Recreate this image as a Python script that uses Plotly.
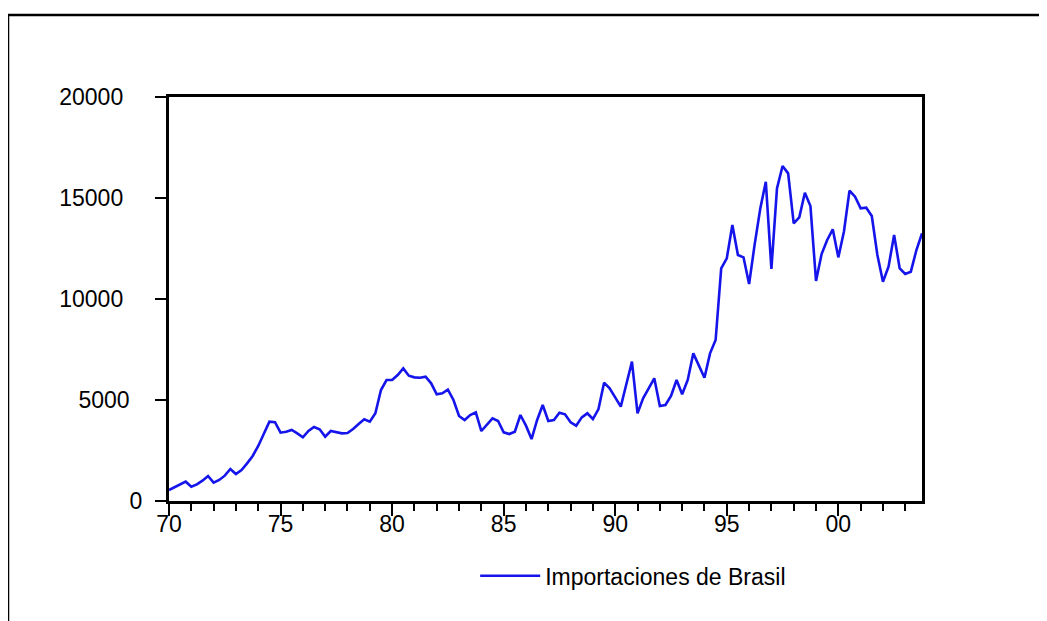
import plotly.graph_objects as go

# Quarterly data 1970Q1 - 2003Q4
start_year = 1970
importaciones = [
    545, 677, 825, 957, 710, 825, 1007, 1238, 908, 1040, 1254, 1584,
    1337, 1535, 1865, 2228, 2723, 3350, 3927, 3900, 3383, 3432, 3515, 3350,
    3150, 3465, 3663, 3548, 3185, 3465, 3400, 3350, 3366, 3564, 3812, 4043,
    3927, 4340, 5495, 5990, 5990, 6237, 6567, 6204, 6122, 6105, 6155, 5825,
    5280, 5330, 5510, 5000,
    4208, 4010, 4257, 4389, 3465, 3762, 4092, 3960, 3400, 3316, 3432, 4257,
    3729, 3069, 4010, 4752, 3960, 4010, 4372, 4290, 3894, 3729, 4141, 4340,
    4059, 4554, 5857, 5577, 5115, 4670, 5790, 6897, 4340, 5082, 5577, 6072,
    4703, 4752, 5198, 5990, 5280, 5990, 7310, 6683, 6105, 7310, 7970, 11517,
    12013, 13662, 12177, 12062, 10741, 12705, 14470, 15806, 11484, 15477, 16582, 16220,
    13744, 14041, 15262, 14602, 10890, 12226, 12920, 13447, 12062, 13332, 15361, 15064,
    14487, 14520, 14107, 12177, 10857, 11600, 13167, 11517, 11236, 11352, 12425, 13250,
]
x_tick_vals = [1970, 1975, 1980, 1985, 1990, 1995, 2000]
x_tick_text = ["70", "75", "80", "85", "90", "95", "00"]
y_tick_vals = [0, 5000, 10000, 15000, 20000]
y_tick_text = ["0", "5000\u00a0\u00a0", "10000\u00a0\u00a0\u00a0", "15000\u00a0\u00a0\u00a0", "20000\u00a0\u00a0\u00a0"]
series_name = "Importaciones de Brasil"

quarters = [start_year + q / 4 for q in range(len(importaciones))]

FONT = "Liberation Sans, Arial, sans-serif"

fig = go.Figure()
fig.add_trace(go.Scatter(
    x=quarters, y=importaciones, mode="lines", name=series_name,
    line=dict(color="rgb(20,20,235)", width=2.6),
))

fig.update_layout(
    width=1047, height=621,
    margin=dict(l=161, r=133, t=89, b=128),
    paper_bgcolor="white", plot_bgcolor="white",
    font=dict(family=FONT, size=23, color="black"),
    showlegend=True,
    legend=dict(
        orientation="h", x=0.4066, y=-0.185, xanchor="left", yanchor="middle",
        font=dict(family=FONT, size=23, color="black"),
        bgcolor="rgba(0,0,0,0)", borderwidth=0, itemwidth=60,
    ),
    xaxis=dict(
        range=[1970, 2003.75], tickmode="array", tickvals=x_tick_vals, ticktext=x_tick_text,
        ticks="outside", ticklen=12, tickwidth=2, tickcolor="black",
        minor=dict(dtick=1, tick0=1970, ticks="outside", ticklen=7, tickwidth=2, tickcolor="black", showgrid=False),
        showline=True, linecolor="black", linewidth=3, mirror=True,
        showgrid=False, zeroline=False, ticklabelstandoff=-12,
        tickfont=dict(family=FONT, size=23, color="black"),
    ),
    yaxis=dict(
        range=[0, 20000], tickmode="array", tickvals=y_tick_vals, ticktext=y_tick_text,
        ticks="outside", ticklen=11, tickwidth=2, tickcolor="black",
        showline=True, linecolor="black", linewidth=3, mirror=True,
        showgrid=False, zeroline=False, ticklabelstandoff=8,
        tickfont=dict(family=FONT, size=23, color="black"),
    ),
    shapes=[
        dict(type="line", xref="paper", yref="paper", x0=-0.2138, x1=-0.2138, y0=1.203, y1=-0.35,
             line=dict(color="black", width=2.5)),
        dict(type="line", xref="paper", yref="paper", x0=-0.2138, x1=1.2, y0=1.203, y1=1.203,
             line=dict(color="black", width=2.5)),
    ],
)

fig.write_html("out.html")
